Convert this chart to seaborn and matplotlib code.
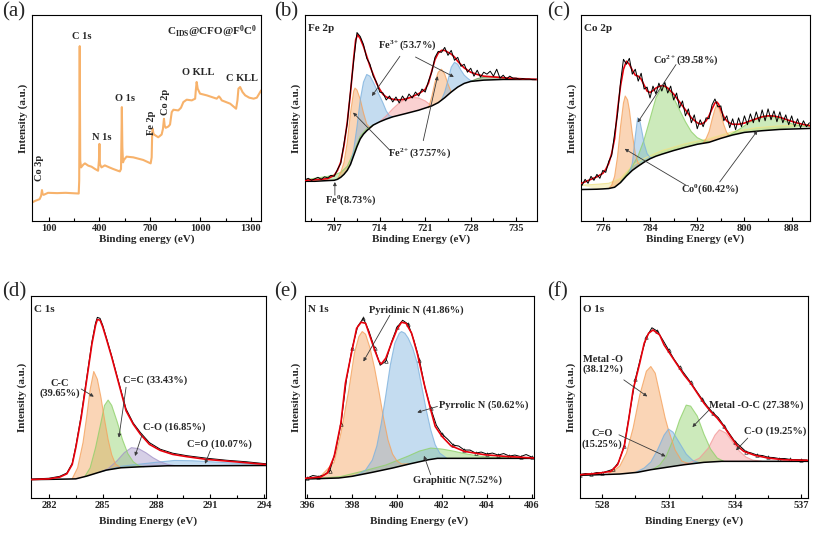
import matplotlib
matplotlib.use("Agg")
import matplotlib.pyplot as plt
from matplotlib.ticker import MultipleLocator
import numpy as np
import seaborn as sns

# ---------------- (a) survey spectrum ----------------
survey_ev = [0, 20, 46, 55, 60, 64, 70, 96, 150, 200, 278, 281, 284, 287, 292, 305, 315, 335,
             354, 375, 393, 398, 401, 404, 413, 433, 460, 483, 510, 522, 529, 532, 534, 537,
             541, 546, 562, 602, 661, 705, 711, 714, 717, 721, 725, 750, 770, 778, 784, 788,
             794, 810, 820, 830, 840, 869, 885, 899, 919, 949, 969, 973, 978, 984, 998, 1038,
             1097, 1110, 1117, 1127, 1177, 1212, 1220, 1226, 1236, 1250, 1266, 1290, 1316,
             1335, 1361]
survey_int = [18.3, 20, 21.7, 25, 30.7, 26.7, 26, 28, 27.7, 28, 27.3, 40, 174, 60, 53.3, 56,
              57.3, 55, 54, 51.7, 50, 60, 76.7, 56.7, 53.3, 55.3, 53.3, 51.7, 50, 49.3, 51.7,
              86.7, 113.3, 73.3, 58.3, 60.7, 64, 63.3, 60.7, 57.3, 63.3, 86.7, 91.7, 87.3, 86,
              83.3, 86, 91.7, 101.7, 95, 92.7, 94, 96, 108.3, 110.7, 110, 112.7, 118.3, 120.7,
              120, 121.7, 130, 138.3, 131.7, 126.7, 125, 121.7, 124, 122.7, 120, 116.7, 111.7,
              120, 131.7, 133.3, 128.3, 125, 122.7, 121.7, 122.7, 130]

# ---------------- (b) Fe 2p ----------------
fe_raw = [41.5, 43, 41, 42.5, 44, 42, 44.5, 43.5, 46, 45,
          52, 58, 78, 98, 131, 162, 190, 186, 178, 164,
          158, 146, 140, 130, 129, 122, 126, 120, 125, 119,
          126, 121, 128, 124, 130, 126, 133, 130, 141, 150,
          165, 171, 170, 175, 167, 172, 162, 165, 156, 158,
          150, 154, 146, 152, 145, 150, 148, 151, 146, 153,
          144, 147, 143, 146, 144, 144, 143, 143.5, 143, 143,
          142.5, 142.5]
fe_env_x = [702.5, 705, 706, 707, 707.5, 708, 708.5, 709, 709.5, 710, 710.3, 710.6, 711, 711.5,
            712, 712.5, 713, 713.5, 714, 714.5, 715, 716, 717, 718, 719, 720, 721, 721.5, 722,
            722.5, 723, 723.5, 724, 724.5, 725, 725.5, 726, 727, 728, 729, 730, 732, 734, 736,
            738.2]
fe_env_y = [41, 42, 42.7, 46, 51, 59.3, 76, 99.3, 129.3, 164.3, 182.7, 187.7, 184, 176, 166,
            156, 147.7, 139, 132.7, 127.7, 125, 122.7, 122, 123, 125.3, 128.3, 132.7, 139, 151,
            162.7, 169.3, 172, 172, 170, 168.3, 165.3, 161, 154.3, 150, 147.7, 146, 145, 144,
            143.3, 142.7]
fe_bg_x = [702.5, 704, 706, 707, 707.5, 708, 708.5, 709, 709.5, 710, 710.5, 711, 711.5, 712, 713,
           714, 715, 716, 718, 720, 722, 723, 724, 725, 726, 727, 728, 730, 733, 738.2]
fe_bg_y = [40, 40, 40.7, 41, 42, 44, 47, 51, 57, 66, 75, 82.7, 87.5, 91, 96.7, 100, 102.7, 105,
           108.3, 111.7, 116, 119.3, 124.3, 130, 135, 138.7, 140.7, 142, 142.7, 142.7]
fe0_x = [702.5, 704, 705, 706, 707, 708, 709, 710, 711, 712, 713]
fe0_y = [41.5, 43, 44, 45, 46.5, 49, 55, 69.5, 85.5, 93, 96.7]
fe2a_x = [707.5, 708, 708.5, 709, 709.5, 710, 710.2, 710.5, 711, 711.5, 712, 712.5, 712.8]
fe2a_y = [42, 49, 59, 79, 109, 131, 134, 132, 122.7, 109, 97.7, 94, 95.5]
fe3a_x = [709.5, 710, 710.5, 711, 711.5, 712, 712.5, 713, 713.5, 714, 714.5, 715, 715.5, 716]
fe3a_y = [57, 72, 95, 122, 140, 147.7, 146, 140, 133, 126, 119, 111, 106, 105]
fesat_x = [714, 715, 716, 717, 718, 719, 720, 721, 722]
fesat_y = [100, 106, 113, 119, 123, 124.5, 124, 121, 116]
fe2b_x = [721.5, 722, 722.5, 723, 723.5, 724, 724.5, 725]
fe2b_y = [114, 125, 140, 150, 153, 148, 138, 130]
fe3b_x = [723.5, 724, 724.5, 725, 725.5, 726, 726.5, 727, 727.5, 728, 728.5]
fe3b_y = [122, 130, 142, 155, 160, 158, 152, 147, 144, 141.5, 141]
fesat2_x = [728, 729, 730, 731, 732, 733, 734, 735]
fesat2_y = [140.7, 143.5, 145, 145.5, 145, 144, 143.2, 142.7]

# ---------------- (c) Co 2p ----------------
co_raw = [36, 42, 38, 45, 41, 47, 43, 51, 49, 60,
          66, 88, 108, 140, 163, 158, 164, 148, 153, 141,
          149, 133, 135, 124, 136, 128, 139, 131, 140, 129,
          136, 122, 129, 114, 121, 106, 113, 99, 107, 93,
          102, 95, 104, 103, 117, 123, 115, 116, 101, 106,
          94, 103, 92, 104, 95, 106, 97, 108, 99, 110,
          100, 112, 101, 113, 102, 111, 100, 110, 99, 107,
          97, 106, 95, 103, 94, 101, 95, 99]
co_env_x = [772.3, 773, 774, 775, 776, 776.5, 777, 777.5, 778, 778.5, 779, 779.5, 780, 780.5, 781,
            781.5, 782, 782.5, 783, 783.5, 784, 784.5, 785, 785.5, 786, 786.5, 787, 787.5, 788,
            789, 790, 791, 792, 792.5, 793, 793.5, 794, 794.5, 795, 795.3, 795.6, 796, 796.5,
            797, 797.5, 798, 799, 800, 801, 802, 803, 804, 805, 806, 807, 808, 809, 810, 811.1]
co_env_y = [37.7, 39.5, 42, 44.5, 48, 52, 58, 68, 83, 112, 136, 153, 161, 158, 152, 147, 146,
            143, 137, 131, 129.5, 131.5, 134, 135.5, 136.5, 136, 134, 131, 128, 120, 112, 104,
            99, 97.7, 98.5, 101, 106, 113, 119, 120, 118, 112, 105, 101, 98.7, 97.5, 97.5, 98.7,
            101, 103, 105, 106, 105.8, 104.5, 102.5, 100.5, 98.7, 97.3, 96]
co_bg_x = [772.3, 775, 776, 777, 778, 779, 780, 781, 782, 783, 784, 785, 786, 788, 790, 792, 794,
           796, 798, 800, 803, 806, 811.1]
co_bg_y = [31.7, 32, 32.3, 32.7, 34, 38.7, 45.3, 51, 55.3, 59.3, 62.7, 65.3, 67.3, 71, 74.3, 77.3,
           79.3, 83.3, 86.7, 89.3, 91, 92.3, 93.3]
co_yel_x = [772.3, 775, 777, 779, 781, 783, 786, 790, 794, 798, 802, 806, 811.1]
co_yel_y = [36, 37, 38, 43, 56, 63, 71, 78, 83, 90, 94, 96, 97]
co0a_x = [777, 777.5, 778, 778.5, 779, 779.5, 779.8, 780.2, 780.5, 781, 781.5, 782, 782.5]
co0a_y = [32.7, 36, 45, 65, 95, 119, 126, 122, 112, 88, 68, 58, 57]
co0s_x = [780.5, 781, 781.5, 781.9, 782.3, 782.7, 783, 783.5, 784, 784.5]
co0s_y = [48.5, 58, 85, 104, 100, 88, 78, 68, 64, 64]
co2a_x = [779, 780, 781, 782, 783, 784, 785, 786, 786.5, 787, 788, 789, 790, 791, 792, 793, 794]
co2a_y = [39.5, 47, 55, 66, 82, 103, 124, 135, 135.5, 133, 124, 112, 100, 90, 84, 81, 80]
co0b_x = [793, 793.5, 794, 794.5, 795, 795.3, 795.6, 796, 796.5, 797, 797.5]
co0b_y = [78.3, 83, 90, 102, 113, 116.7, 115, 108, 97, 89, 86]
co2b_x = [797, 798, 799, 800, 801, 802, 803, 804, 805, 806, 807, 808, 809, 810, 811.1]
co2b_y = [85.5, 88.5, 92, 96, 100, 103.5, 105.5, 106, 105, 103, 100.5, 98, 96.5, 95.5, 95]

# ---------------- (d) C 1s ----------------
c_env_x = [281, 282, 282.6, 283, 283.3, 283.5, 283.8, 284.1, 284.4, 284.6, 284.7, 284.85, 285,
           285.2, 285.5, 285.8, 286.1, 286.3, 286.7, 287.1, 287.6, 288.2, 288.9, 289.7, 290.8,
           291.9, 293, 294.1]
c_env_y = [18.3, 19, 20.7, 24, 33.3, 50, 80, 116.7, 153.3, 171.7, 177.3, 176.7, 170, 158.3, 140,
           120, 100, 86.7, 73.3, 63.3, 53.3, 47.3, 43.3, 41, 38.3, 36.7, 35, 33.3]
c_raw_y = [18.8, 19.6, 21.5, 24.8, 34.5, 51.5, 82, 118.5, 155.5, 174, 179.5, 178.5, 171.5, 159.5,
           141, 121, 101.5, 88.5, 74.5, 65, 55, 48.5, 44.5, 42, 39.5, 37.5, 36, 34]
c_bg_x = [281, 282, 283, 283.5, 284.1, 284.7, 285.2, 286, 287.1, 288.6, 290.4, 294.1]
c_bg_y = [18.3, 18.5, 18.8, 19, 21.7, 25, 27.7, 30, 31, 32, 32, 32.3]
cc_x = [283.3, 283.6, 283.9, 284.1, 284.3, 284.5, 284.7, 284.9, 285.1, 285.3, 285.5, 285.7, 286]
cc_y = [19.2, 30, 55, 80, 108, 125.7, 118, 100, 78, 58, 43, 34, 30]
cdc_x = [284, 284.3, 284.6, 284.9, 285.1, 285.3, 285.5, 285.8, 286.1, 286.4, 286.7, 287, 287.3]
cdc_y = [21.3, 30, 50, 75, 92, 97.3, 92, 76, 58, 44, 36, 32, 31.1]
co_x = [284.8, 285.3, 285.8, 286.2, 286.6, 287, 287.4, 287.8, 288.2, 288.6, 289]
co_y = [25.5, 29, 37, 45, 50, 49, 45, 40, 36, 33.5, 32.2]
cdo_x = [285, 286, 287, 288, 289, 290, 291, 292, 293, 294.1]
cdo_y = [26.6, 31.5, 33.5, 35.5, 37.3, 37, 36, 35, 34, 33.3]

# ---------------- (e) N 1s ----------------
n_raw = [20, 22.5, 21.5, 23, 27, 46, 74, 119, 150, 172,
         180, 167, 150, 133, 137, 156, 171, 178, 174, 158,
         138, 110, 90, 73, 64, 59, 53, 52, 48, 48,
         45, 46, 44, 45, 43, 44.5, 42, 43, 41.5, 43.5, 41]
n_env_x = [395.9, 396.6, 396.9, 397.2, 397.5, 397.7, 398, 398.2, 398.4, 398.6, 398.8, 399, 399.2,
           399.3, 399.5, 399.75, 400, 400.2, 400.4, 400.65, 400.9, 401.2, 401.5, 401.7, 402,
           402.4, 403, 403.9, 404.8, 406.1]
n_env_y = [19.7, 21, 25, 41.7, 75, 115, 148.3, 170, 176, 175, 161.7, 148.3, 136.7, 134.3, 140,
           155, 169, 176, 175, 165, 145, 115, 88.3, 71.7, 61.7, 52.3, 46.7, 43.3, 41.7, 40]
n_bg_x = [395.9, 397.4, 398, 398.9, 399.8, 400.6, 401.4, 401.8, 406.1]
n_bg_y = [19, 20, 21.7, 25.7, 30, 34.3, 38.3, 39.7, 39.7]
pyd_x = [396.5, 397.2, 397.5, 397.85, 398.1, 398.3, 398.45, 398.6, 398.8, 399, 399.2, 399.4,
         399.6, 399.8, 400, 400.2, 400.5]
pyd_y = [19.5, 36, 65, 108, 145, 161.7, 166.7, 164, 150, 130, 106, 80, 58, 44, 37, 34, 34.2]
pyr_x = [398, 398.3, 398.6, 398.9, 399.1, 399.3, 399.5, 399.7, 399.9, 400.1, 400.2, 400.35, 400.5,
         400.7, 400.9, 401.1, 401.3, 401.5, 401.7, 401.9, 402.2]
pyr_y = [21.7, 24, 28, 38, 52, 75, 103, 133, 155, 165, 166.7, 165, 160, 150, 135, 111.7, 88.3,
         68.3, 53.3, 45, 40]
gra_x = [396.2, 397, 397.5, 398.5, 399.5, 400.5, 401, 401.5, 402, 402.5, 403, 403.5, 404, 405,
         406.1]
gra_y = [19.3, 20.5, 21.5, 27, 33, 42, 47, 50, 49, 47, 44.5, 42.5, 41, 40.3, 40]

# ---------------- (f) O 1s ----------------
o_raw = [23.5, 24.5, 23.8, 25.5, 25.2, 27, 28.8, 36, 52.5, 86,
         119, 141.5, 161, 170.5, 167, 158, 148.5, 139, 131, 123.5,
         116, 107.5, 99.5, 92, 85.5, 80.5, 72.5, 64.5, 56.5, 51.5,
         46.5, 45, 43, 42.5, 40.8, 40.5, 39.5, 39.5, 38.6, 38.5, 38.2, 38]
o_env_x = [527, 527.8, 528.4, 528.7, 529, 529.2, 529.4, 529.7, 529.9, 530.1, 530.3, 530.6, 530.8,
           531.1, 531.4, 531.7, 532, 532.3, 532.6, 532.9, 533.2, 533.5, 533.8, 534.1, 534.4,
           534.9, 535.5, 536.2, 537.3]
o_env_y = [23.3, 24.7, 26.7, 33.3, 51.7, 78.3, 108.3, 135, 155, 165, 168.3, 163.3, 153.3, 143.3,
           133.3, 123.3, 115, 105, 95, 86.7, 80, 71.7, 61.7, 52.3, 46.7, 42.7, 40, 38.3, 37.7]
o_bg_x = [527, 528.8, 529.6, 530.2, 531, 531.7, 532.6, 533.4, 537.3]
o_bg_y = [22.7, 24, 25.7, 28.3, 31, 33.3, 35.7, 36.7, 36.7]
mo_x = [528.3, 528.5, 528.8, 529.1, 529.4, 529.7, 530, 530.2, 530.4, 530.7, 530.85, 531, 531.3,
        531.6, 531.9]
mo_y = [24.8, 27, 32, 45, 70, 103, 127, 131.7, 125, 95, 80, 68, 48, 37, 34.5]
ocdo_x = [529.5, 529.9, 530.2, 530.5, 530.8, 531, 531.2, 531.5, 531.8, 532.1, 532.4]
ocdo_y = [25.5, 30, 36, 48, 63, 69, 66, 55, 44, 37.5, 35.2]
moc_x = [530.3, 530.6, 530.9, 531.2, 531.5, 531.8, 532, 532.3, 532.6, 532.9, 533.2, 533.5]
moc_y = [28.7, 33, 42, 58, 78, 93, 92, 82, 64, 49, 40, 36.7]
oco_x = [531.5, 532, 532.4, 532.8, 533.1, 533.3, 533.6, 533.9, 534.2, 534.5, 534.8, 535.2]
oco_y = [32.7, 35.5, 40, 50, 63, 68.3, 65, 56, 47, 41, 38, 36.8]

ORANGE = "#f5a25d"
BLUE = "#7eb2de"
GREEN = "#8fd16a"
PINK = "#f49a9a"
PURPLE = "#a596c8"
YELLOW = "#efe38a"

sns.set_theme(style="ticks")
plt.rcParams["font.family"] = ["Liberation Serif", "DejaVu Serif"]
plt.rcParams["font.weight"] = "bold"
plt.rcParams["axes.labelweight"] = "bold"
plt.rcParams["mathtext.fontset"] = "custom"
plt.rcParams["mathtext.rm"] = "Liberation Serif:bold"
plt.rcParams["mathtext.bf"] = "Liberation Serif:bold"
plt.rcParams["mathtext.it"] = "Liberation Serif:bold"
plt.rcParams["mathtext.default"] = "bf"

fig = plt.figure(figsize=(8.17, 5.35), dpi=100)
ax_a = fig.add_axes([0.039, 0.587, 0.2805, 0.385])
ax_b = fig.add_axes([0.3733, 0.587, 0.284, 0.385])
ax_c = fig.add_axes([0.7111, 0.587, 0.2803, 0.385])
ax_d = fig.add_axes([0.0379, 0.0692, 0.2877, 0.3775])
ax_e = fig.add_axes([0.3733, 0.0692, 0.2803, 0.3775])
ax_f = fig.add_axes([0.7099, 0.0692, 0.279, 0.3775])


def style_axis(ax, xlim, ylim, step, xlabel, pad):
    ax.set_xlim(*xlim)
    ax.set_ylim(*ylim)
    ax.xaxis.set_major_locator(MultipleLocator(step))
    ax.xaxis.set_minor_locator(MultipleLocator(step / 2))
    ax.set_yticks([])
    ax.tick_params(axis="x", which="both", direction="in", top=False, labelsize=7.5, pad=2,
                   width=0.8, color="black")
    ax.tick_params(axis="x", which="major", length=3)
    ax.tick_params(axis="x", which="minor", length=2)
    for s in ax.spines.values():
        s.set_linewidth(0.8)
        s.set_color("black")
    ax.set_xlabel(xlabel, fontsize=8, labelpad=pad)
    ax.set_ylabel("Intensity (a.u.)", fontsize=8, labelpad=3)


def fill_peak(ax, px, py, bx, by, color, alpha=0.45):
    px, py = np.asarray(px), np.asarray(py)
    bx, by = np.asarray(bx), np.asarray(by)
    m = (bx > px[0]) & (bx < px[-1])
    xs = np.concatenate([px, bx[m][::-1]])
    ys = np.concatenate([py, by[m][::-1]])
    ax.fill(xs, ys, color=color, alpha=alpha, lw=0, zorder=1)
    ax.plot(px, py, color=color, lw=0.8, alpha=0.8, zorder=1.5)


def arrow(ax, tail, tip):
    ax.annotate("", xy=tip, xytext=tail,
                arrowprops=dict(arrowstyle="-|>", color="#3a3a3a", lw=0.6,
                                mutation_scale=5, shrinkA=0, shrinkB=0), zorder=6)


def draw_lines(ax, raw_x, raw_y, env_x, env_y, bg_x, bg_y, raw_on_top, marker=None):
    sns.lineplot(x=bg_x, y=bg_y, ax=ax, color="black", lw=1.1, zorder=3)
    sns.lineplot(x=env_x, y=env_y, ax=ax, color="#e8000b", lw=1.2, zorder=4)
    sns.lineplot(x=raw_x, y=raw_y, ax=ax, color="black", lw=0.7,
                 zorder=5 if raw_on_top else 3.5, marker=marker, markersize=2.5,
                 markerfacecolor="none", markeredgecolor="black", markeredgewidth=0.4,
                 markevery=2)


# ---- (a)
sns.lineplot(x=survey_ev, y=survey_int, ax=ax_a, color="#f7b26b", lw=1.5)
style_axis(ax_a, (0, 1360), (0, 205), 300, "Binding energy (eV)", 1)
ax_a.xaxis.set_major_locator(plt.FixedLocator([100, 400, 700, 1000, 1300]))
ax_a.xaxis.set_minor_locator(plt.FixedLocator([250, 550, 850, 1150]))
fs = 7.5
ax_a.text(294, 184, "C 1s", ha="center", va="center", fontsize=fs)
ax_a.text(417, 83, "N 1s", ha="center", va="center", fontsize=fs)
ax_a.text(552, 122, "O 1s", ha="center", va="center", fontsize=fs)
ax_a.text(988, 148, "O KLL", ha="center", va="center", fontsize=fs)
ax_a.text(1246, 142, "C KLL", ha="center", va="center", fontsize=fs)
ax_a.text(46, 53, "Co 3p", ha="center", va="center", rotation=90, fontsize=fs)
ax_a.text(711, 98, "Fe 2p", ha="center", va="center", rotation=90, fontsize=fs)
ax_a.text(794, 118, "Co 2p", ha="center", va="center", rotation=90, fontsize=fs)
ax_a.text(1335, 188, r"C$_{IDS}$@CFO@F$^{0}$C$^{0}$", ha="right", va="center", fontsize=8)

# ---- (b)
for px, py, col in [(fe0_x, fe0_y, GREEN), (fesat_x, fesat_y, PINK), (fe2a_x, fe2a_y, ORANGE),
                    (fe3a_x, fe3a_y, BLUE), (fe2b_x, fe2b_y, ORANGE), (fe3b_x, fe3b_y, BLUE),
                    (fesat2_x, fesat2_y, "#6a9a5a")]:
    fill_peak(ax_b, px, py, fe_bg_x, fe_bg_y, col)
draw_lines(ax_b, np.arange(702.5, 738.01, 0.5), fe_raw, fe_env_x, fe_env_y, fe_bg_x, fe_bg_y, True)
style_axis(ax_b, (702.5, 738.2), (0, 207.7), 7, "Binding Energy (eV)", 1)
ax_b.text(0.015, 0.955, "Fe 2p", transform=ax_b.transAxes, va="top", fontsize=8)
ax_b.text(718.3, 177.7, r"Fe$^{3+}$(53.7%)", ha="center", va="center", fontsize=fs)
arrow(ax_b, (717.1, 166), (712.8, 126))
arrow(ax_b, (719.5, 165.3), (725.4, 145.3))
ax_b.text(720.1, 68.3, r"Fe$^{2+}$(37.57%)", ha="center", va="center", fontsize=fs)
arrow(ax_b, (715.6, 71), (709.9, 109.3))
arrow(ax_b, (720.7, 81), (722.9, 146))
ax_b.text(709.5, 21, r"Fe$^{0}$(8.73%)", ha="center", va="center", fontsize=fs)
arrow(ax_b, (707.1, 26), (707.1, 39.3))

# ---- (c)
for px, py, col in [(co_yel_x, co_yel_y, YELLOW), (co2a_x, co2a_y, GREEN), (co2b_x, co2b_y, GREEN),
                    (co0a_x, co0a_y, ORANGE), (co0s_x, co0s_y, BLUE), (co0b_x, co0b_y, ORANGE)]:
    fill_peak(ax_c, px, py, co_bg_x, co_bg_y, col)
draw_lines(ax_c, np.arange(772.5, 811.01, 0.5), co_raw, co_env_x, co_env_y, co_bg_x, co_bg_y, True)
style_axis(ax_c, (772.3, 811.1), (0, 207.7), 8, "Binding Energy (eV)", 1)
ax_c.text(0.015, 0.955, "Co 2p", transform=ax_c.transAxes, va="top", fontsize=8)
ax_c.text(790.1, 162.7, r"Co$^{2+}$(39.58%)", ha="center", va="center", fontsize=fs)
arrow(ax_c, (788.4, 157.7), (781.9, 99.3))
ax_c.text(794.3, 32, r"Co$^{0}$(60.42%)", ha="center", va="center", fontsize=fs)
arrow(ax_c, (790.1, 36), (779.7, 72.7))
arrow(ax_c, (795.8, 39.3), (802.2, 91))

# ---- (d)
for px, py, col in [(cdo_x, cdo_y, BLUE), (co_x, co_y, PURPLE), (cdc_x, cdc_y, GREEN),
                    (cc_x, cc_y, ORANGE)]:
    fill_peak(ax_d, px, py, c_bg_x, c_bg_y, col)
draw_lines(ax_d, c_env_x, c_raw_y, c_env_x, c_env_y, c_bg_x, c_bg_y, False)
style_axis(ax_d, (281, 294.1), (0, 200.7), 3, "Binding Energy (eV)", 5)
ax_d.text(0.015, 0.955, "C 1s", transform=ax_d.transAxes, va="top", fontsize=8)
ax_d.text(282.6, 109, "C-C\n(39.65%)", ha="center", va="center", fontsize=fs, linespacing=1.1)
arrow(ax_d, (283.8, 108.3), (284.5, 100.7))
ax_d.text(287.9, 116.7, "C=C (33.43%)", ha="center", va="center", fontsize=fs)
arrow(ax_d, (286.3, 110), (285.9, 60))
ax_d.text(289.0, 70, "C-O (16.85%)", ha="center", va="center", fontsize=fs)
arrow(ax_d, (287.2, 63.3), (286.8, 41.7))
ax_d.text(291.5, 53.3, "C=O (10.07%)", ha="center", va="center", fontsize=fs)
arrow(ax_d, (291.0, 47.3), (290.7, 34))

# ---- (e)
for px, py, col in [(gra_x, gra_y, GREEN), (pyd_x, pyd_y, ORANGE), (pyr_x, pyr_y, BLUE)]:
    fill_peak(ax_e, px, py, n_bg_x, n_bg_y, col)
draw_lines(ax_e, np.arange(396, 406.01, 0.25), n_raw, n_env_x, n_env_y, n_bg_x, n_bg_y, False, "^")
style_axis(ax_e, (395.9, 406.1), (0, 202.3), 2, "Binding Energy (eV)", 5)
ax_e.text(0.015, 0.955, "N 1s", transform=ax_e.transAxes, va="top", fontsize=8)
ax_e.text(400.87, 188.3, "Pyridinic N (41.86%)", ha="center", va="center", fontsize=fs)
arrow(ax_e, (399.68, 183), (398.5, 136.7))
ax_e.text(403.84, 93.3, "Pyrrolic N (50.62%)", ha="center", va="center", fontsize=fs)
arrow(ax_e, (401.8, 91.7), (400.9, 85.7))
ax_e.text(402.68, 17.7, "Graphitic N(7.52%)", ha="center", va="center", fontsize=fs)
arrow(ax_e, (401.5, 23.3), (401.2, 42.3))

# ---- (f)
for px, py, col in [(oco_x, oco_y, PINK), (moc_x, moc_y, GREEN), (mo_x, mo_y, ORANGE),
                    (ocdo_x, ocdo_y, BLUE)]:
    fill_peak(ax_f, px, py, o_bg_x, o_bg_y, col)
draw_lines(ax_f, np.arange(527, 537.26, 0.25), o_raw, o_env_x, o_env_y, o_bg_x, o_bg_y, False, "^")
style_axis(ax_f, (527, 537.3), (0, 202.3), 3, "Binding Energy (eV)", 5)
ax_f.text(0.015, 0.955, "O 1s", transform=ax_f.transAxes, va="top", fontsize=8)
ax_f.text(528.03, 134, "Metal -O\n(38.12%)", ha="center", va="center", fontsize=fs, linespacing=1.1)
arrow(ax_f, (528.98, 118.3), (530.04, 101.7))
ax_f.text(528.0, 59, "C=O\n(15.25%)", ha="center", va="center", fontsize=fs, linespacing=1.1)
arrow(ax_f, (528.76, 63.3), (530.87, 41.7))
ax_f.text(534.96, 93.3, "Metal -O-C (27.38%)", ha="center", va="center", fontsize=fs)
arrow(ax_f, (532.84, 88.3), (532.08, 71))
ax_f.text(535.8, 66.7, "C-O (19.25%)", ha="center", va="center", fontsize=fs)
arrow(ax_f, (534.58, 60), (534.05, 47.7))

# panel letters
for lab, x, y in [("(a)", 2, 2), ("(b)", 274, 2), ("(c)", 547, 2),
                  ("(d)", 2, 282), ("(e)", 274, 282), ("(f)", 547, 282)]:
    fig.text(x / 817, 1 - y / 535, lab, ha="left", va="top", fontsize=15, fontweight="normal")

fig.savefig("out.png", dpi=100)
